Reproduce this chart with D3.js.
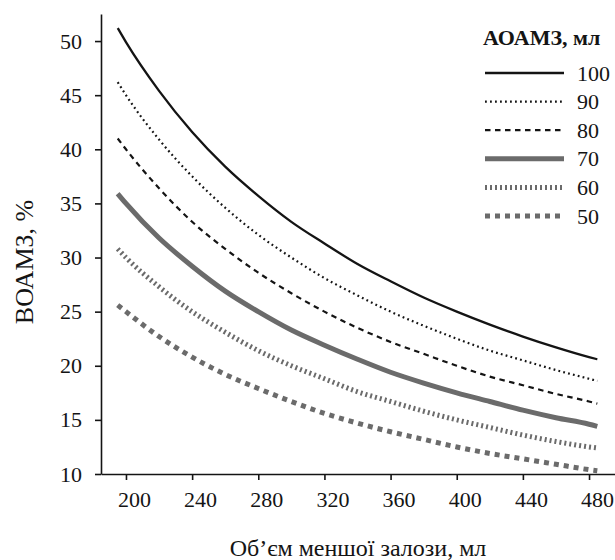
<!DOCTYPE html>
<html>
<head>
<meta charset="utf-8">
<script src="https://cdn.jsdelivr.net/npm/d3@7"></script>
<style>
  html, body { margin: 0; padding: 0; background: #fff; }
  svg, svg text { font-family: "Liberation Serif", "Times New Roman", serif; }
  svg { display: block; }
</style>
</head>
<body>
<svg id="chart" width="615" height="560"></svg>
<script>
// ---- data ----
const volumes = [195, 200, 220, 240, 260, 280, 300, 320, 340, 360, 380, 400, 420, 440, 460, 480, 485];
const s100 = [51.2, 49.9, 45.4, 41.6, 38.4, 35.7, 33.3, 31.3, 29.4, 27.8, 26.3, 25.0, 23.8, 22.7, 21.7, 20.8, 20.6];
const s90  = [46.2, 45.0, 40.9, 37.5, 34.6, 32.1, 30.0, 28.1, 26.5, 25.0, 23.7, 22.5, 21.4, 20.5, 19.6, 18.8, 18.6];
const s80  = [41.0, 40.0, 36.4, 33.3, 30.8, 28.6, 26.7, 25.0, 23.5, 22.2, 21.1, 20.0, 19.0, 18.2, 17.4, 16.7, 16.5];
const s70  = [35.9, 35.0, 31.8, 29.2, 26.9, 25.0, 23.3, 21.9, 20.6, 19.4, 18.4, 17.5, 16.7, 15.9, 15.2, 14.6, 14.4];
const s60  = [30.8, 30.0, 27.3, 25.0, 23.1, 21.4, 20.0, 18.8, 17.6, 16.7, 15.8, 15.0, 14.3, 13.6, 13.0, 12.5, 12.4];
const s50  = [25.6, 25.0, 22.7, 20.8, 19.2, 17.9, 16.7, 15.6, 14.7, 13.9, 13.2, 12.5, 11.9, 11.4, 10.9, 10.4, 10.3];
const seriesLabels = ["100", "90", "80", "70", "60", "50"];
const seriesValues = [s100, s90, s80, s70, s60, s50];
const xTicks = [200, 240, 280, 320, 360, 400, 440, 480];
const yTicks = [10, 15, 20, 25, 30, 35, 40, 45, 50];
const xTitle = "Об’єм меншої залози, мл";
const yTitle = "ВОАМЗ, %";
const legendTitle = "АОАМЗ, мл";

// ---- styles ----
const styles = [
  { color: "#141414", width: 2.3, dash: null },
  { color: "#141414", width: 2.2, dash: "1.8,3.2" },
  { color: "#141414", width: 2.2, dash: "5.5,4.5" },
  { color: "#6b6b6b", width: 5, dash: null },
  { color: "#6b6b6b", width: 5, dash: "2,3" },
  { color: "#6b6b6b", width: 5, dash: "5,5" }
];
const FONT = "Liberation Serif";

const svg = d3.select("#chart");
const x = d3.scaleLinear().domain([184.9, 495.7]).range([101, 615]);
const y = d3.scaleLinear().domain([10, 52.5]).range([474, 14]);

// axes
const xAxis = svg.append("g").attr("transform", "translate(0,474)")
  .call(d3.axisBottom(x).tickValues(xTicks).tickSize(6).tickSizeOuter(0).tickPadding(11));
xAxis.attr("font-family", FONT).attr("font-size", 22);
xAxis.selectAll("text").attr("dx", 8).attr("fill", "#141414");

const yAxis = svg.append("g").attr("transform", "translate(101,0)")
  .call(d3.axisLeft(y).tickValues(yTicks).tickSize(6).tickSizeOuter(0).tickPadding(13));
yAxis.attr("font-family", FONT).attr("font-size", 22);
yAxis.selectAll("text").attr("fill", "#141414");

svg.selectAll(".domain, .tick line").attr("stroke", "#141414").attr("stroke-width", 1.6);

// titles
svg.append("text").attr("x", 358).attr("y", 556).attr("text-anchor", "middle")
  .attr("font-family", FONT).attr("font-size", 24).attr("fill", "#141414").text(xTitle);
svg.append("text").attr("transform", "translate(33,262) rotate(-90)")
  .attr("text-anchor", "middle").attr("font-family", FONT).attr("font-size", 26)
  .attr("fill", "#141414").text(yTitle);

// lines
const line = d3.line().x((d, i) => x(volumes[i])).y(d => y(d)).curve(d3.curveMonotoneX);
seriesValues.forEach((vals, k) => {
  const st = styles[k];
  svg.append("path").datum(vals).attr("d", line)
    .attr("fill", "none").attr("stroke", st.color).attr("stroke-width", st.width)
    .attr("stroke-dasharray", st.dash);
});

// legend
svg.append("text").attr("x", 483).attr("y", 45).attr("font-family", FONT).attr("font-size", 22)
  .attr("font-weight", "bold").attr("fill", "#141414").text(legendTitle);
const legY = d3.scalePoint().domain(seriesLabels).range([73, 216]);
seriesLabels.forEach((lab, k) => {
  const st = styles[k];
  const yy = legY(lab);
  svg.append("line").attr("x1", 485).attr("x2", 564).attr("y1", yy).attr("y2", yy)
    .attr("stroke", st.color).attr("stroke-width", st.width).attr("stroke-dasharray", st.dash);
  svg.append("text").attr("x", 577).attr("y", yy + 7.5).attr("font-family", FONT).attr("font-size", 22)
    .attr("fill", "#141414").text(lab);
});
</script>
</body>
</html>
